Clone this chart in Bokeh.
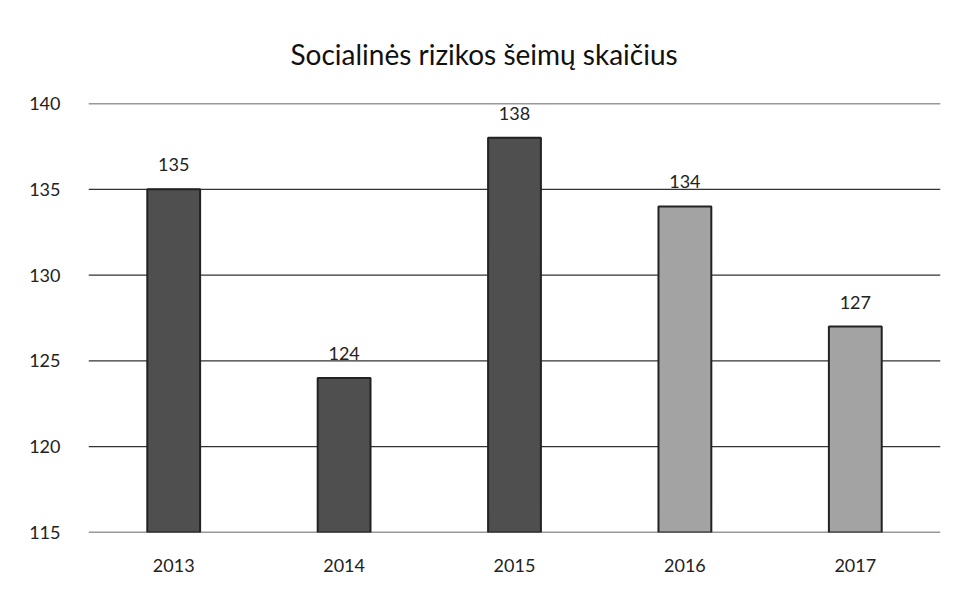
from bokeh.plotting import figure
from bokeh.models import ColumnDataSource, FixedTicker, LabelSet, Span
from bokeh.core.properties import value
from bokeh.embed import file_html
from bokeh.resources import INLINE

years = ["2013", "2014", "2015", "2016", "2017"]
values = [135, 124, 138, 134, 127]
fills = ["#4f4f4f", "#4f4f4f", "#4f4f4f", "#a3a3a3", "#a3a3a3"]
y_ticks = [115, 120, 125, 130, 135, 140]

src = ColumnDataSource(dict(x=years, top=values, fill=fills,
                            label=[str(v) for v in values]))

p = figure(x_range=years, y_range=(115, 140), width=950, height=581,
           output_backend="svg", toolbar_location=None,
           title="Socialinės rizikos šeimų skaičius",
           min_border_left=88, min_border_right=10,
           min_border_top=103, min_border_bottom=49)

for t in y_ticks:
    p.add_layout(Span(location=t, dimension="width", line_color="#333333",
                      line_width=1.3, level="underlay"))

p.vbar(x="x", top="top", bottom=115, width=0.31, source=src,
       fill_color="fill", line_color="#222222", line_width=2)

labels = LabelSet(x="x", y="top", text="label", source=src,
                  text_align="center", y_offset=18,
                  text_font=value("Lato"), text_font_size="18px",
                  text_color="#222222")
p.add_layout(labels)

p.title.text_font = "Lato"
p.title.text_font_size = "28px"
p.title.text_font_style = "normal"
p.title.text_color = "#111111"
p.title.align = "left"
p.title.offset = 202
p.title.standoff = 65

p.yaxis.ticker = FixedTicker(ticks=y_ticks)
for ax in (p.xaxis, p.yaxis):
    ax.axis_line_color = None
    ax.major_tick_line_color = None
    ax.minor_tick_line_color = None
    ax.major_label_text_font = "Lato"
    ax.major_label_text_font_size = "18px"
    ax.major_label_text_color = "#222222"
p.yaxis.major_label_standoff = 22
p.xaxis.major_label_standoff = 20

p.xgrid.grid_line_color = None
p.ygrid.grid_line_color = None
p.outline_line_color = None
p.background_fill_color = "white"
p.border_fill_color = "white"

open("out.html", "w").write(file_html(p, INLINE))
